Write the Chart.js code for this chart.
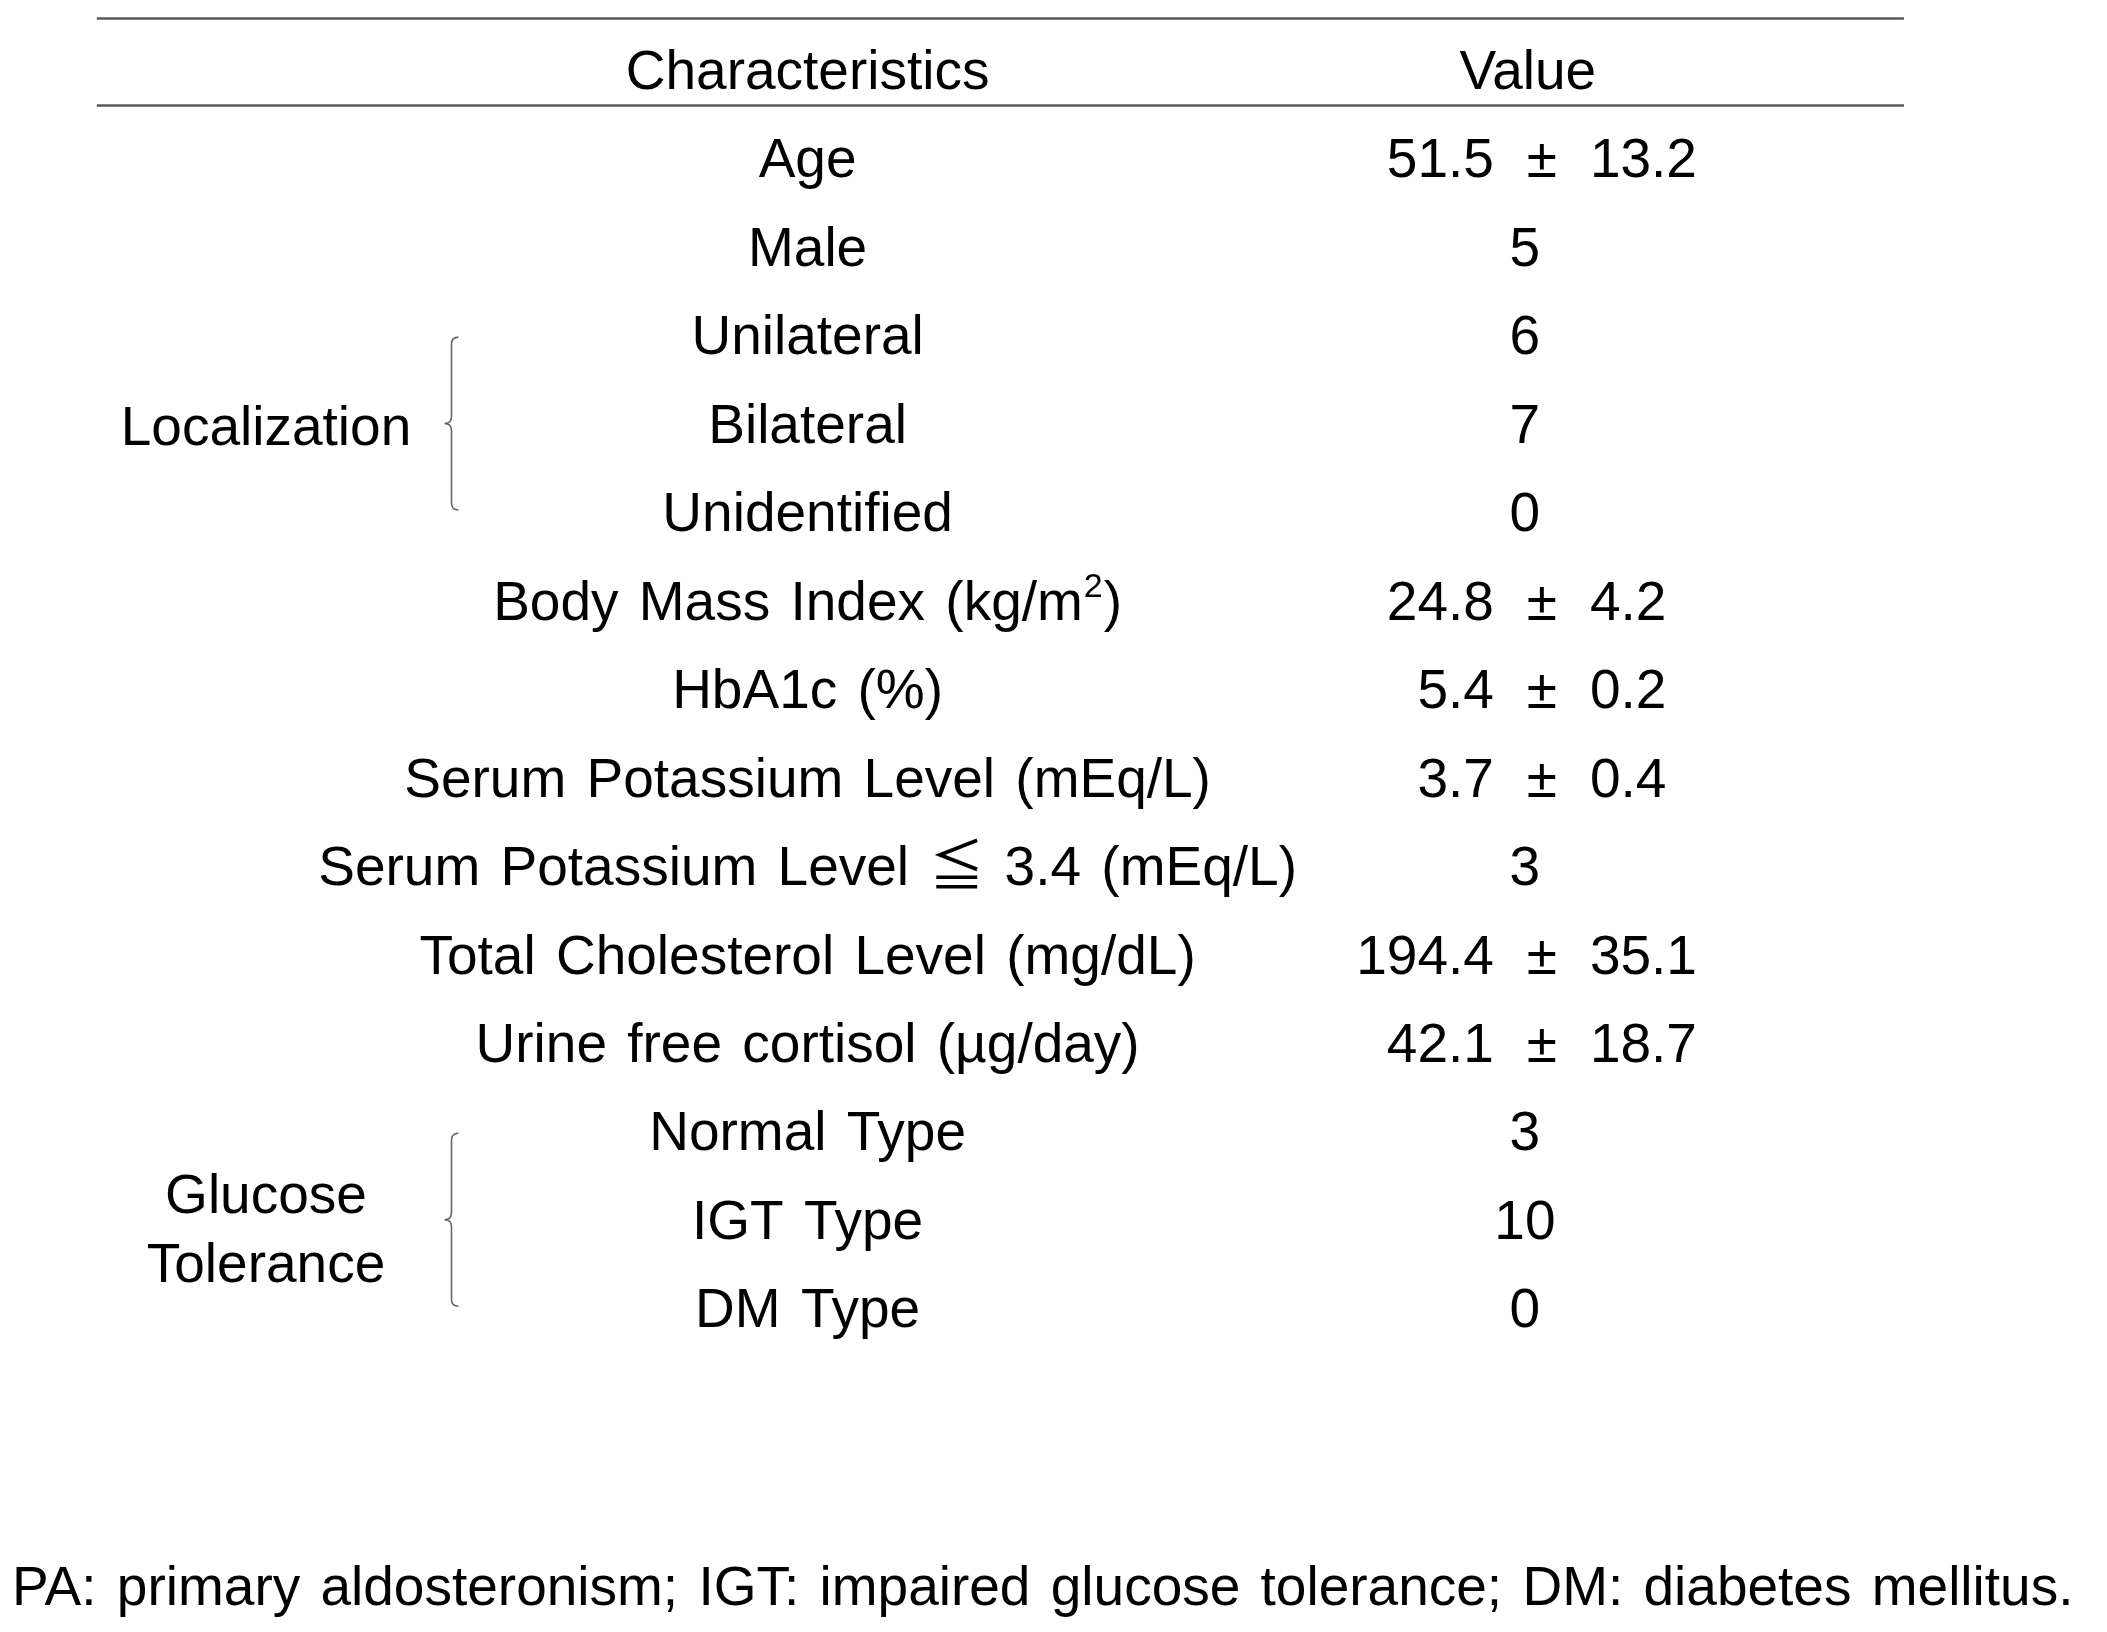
<!DOCTYPE html>
<html>
<head>
<meta charset="utf-8">
<script src="https://cdn.jsdelivr.net/npm/chart.js@4.4.1/dist/chart.umd.min.js"></script>
<style>
html, body { margin: 0; padding: 0; background: #fff; }
#tableChart { display: block; }
</style>
</head>
<body>
<canvas id="tableChart" width="2107" height="1632"></canvas>
<script>
// table content
var headers = ['Characteristics', 'Value'];
var characteristics = [
    'Age',
    'Male',
    'Unilateral',
    'Bilateral',
    'Unidentified',
    'Body Mass Index (kg/m\u00B2)',
    'HbA1c (%)',
    'Serum Potassium Level (mEq/L)',
    'Serum Potassium Level \u2266 3.4 (mEq/L)',
    'Total Cholesterol Level (mg/dL)',
    'Urine free cortisol (\u00B5g/day)',
    'Normal Type',
    'IGT Type',
    'DM Type'
];
var means = [51.5, 5, 6, 7, 0, 24.8, 5.4, 3.7, 3, 194.4, 42.1, 3, 10, 0];
var sds = [13.2, null, null, null, null, 4.2, 0.2, 0.4, null, 35.1, 18.7, null, null, null];
var groupLabels = [['Localization'], ['Glucose', 'Tolerance']];
var groupFirstRow = [2, 11];
var groupLastRow = [4, 13];
var footnote = 'PA: primary aldosteronism; IGT: impaired glucose tolerance; DM: diabetes mellitus.';

var fontFamily = '"Liberation Sans", Arial, "Noto Sans CJK JP", sans-serif';
var fontSize = 55;

// column positions on the x scale (label column = 0, value column = 1)
var COL_GROUP = -0.7519;
var COL_BRACE = -0.4944;
var COL_LABEL = 0;
var COL_VALUE = 1;
var RULE_FROM = -0.9868;
var RULE_TO = 1.5221;
// rule positions on the row scale
var RULE_TOP = -1.634;
var RULE_HEAD = -0.648;
var HEADER_ROW = -1;

function drawBrace(ctx, bx, top, bottom) {
    var mid = (top + bottom) / 2, r = 7;
    ctx.beginPath();
    ctx.moveTo(bx + r, top);
    ctx.quadraticCurveTo(bx, top, bx, top + r);
    ctx.lineTo(bx, mid - r);
    ctx.quadraticCurveTo(bx, mid, bx - r, mid);
    ctx.quadraticCurveTo(bx, mid, bx, mid + r);
    ctx.lineTo(bx, bottom - r);
    ctx.quadraticCurveTo(bx, bottom, bx + r, bottom);
    ctx.stroke();
}

// centred text, with a '²' drawn as a real superscript
function drawLabel(ctx, text, cx, cy) {
    var parts = text.split('\u00B2');
    if (parts.length === 1) {
        ctx.textAlign = 'center';
        ctx.fillText(text, cx, cy);
        return;
    }
    var big = fontSize + 'px ' + fontFamily;
    var small = Math.round(fontSize * 0.62) + 'px ' + fontFamily;
    ctx.font = big;
    var w0 = ctx.measureText(parts[0]).width;
    var w2 = ctx.measureText(parts[1]).width;
    ctx.font = small;
    var w1 = ctx.measureText('2').width + 2;
    var sx = cx - (w0 + w1 + w2) / 2;
    ctx.textAlign = 'left';
    ctx.font = big;
    ctx.fillText(parts[0], sx, cy);
    ctx.font = small;
    ctx.fillText('2', sx + w0 + 1, cy - fontSize * 0.3);
    ctx.font = big;
    ctx.fillText(parts[1], sx + w0 + w1, cy);
}

var tablePlugin = {
    id: 'tablePlugin',
    beforeDraw: function (chart) {
        chart.ctx.wordSpacing = '5px';
    },
    afterDraw: function (chart) {
        var ctx = chart.ctx;
        var x = chart.scales.x;
        var y = chart.scales.y;
        ctx.save();

        // horizontal rules
        ctx.strokeStyle = '#5a5a5a';
        ctx.lineWidth = 2.5;
        [RULE_TOP, RULE_HEAD].forEach(function (r) {
            var py = Math.round(y.getPixelForValue(r)) + 0.5;
            ctx.beginPath();
            ctx.moveTo(x.getPixelForValue(RULE_FROM), py);
            ctx.lineTo(x.getPixelForValue(RULE_TO), py);
            ctx.stroke();
        });

        ctx.fillStyle = '#000';
        ctx.font = fontSize + 'px ' + fontFamily;
        ctx.textBaseline = 'middle';

        // header
        ctx.textAlign = 'center';
        ctx.fillText(headers[0], x.getPixelForValue(COL_LABEL), y.getPixelForValue(HEADER_ROW));
        ctx.fillText(headers[1], x.getPixelForValue(COL_VALUE), y.getPixelForValue(HEADER_ROW));

        // rows
        var vx = x.getPixelForValue(COL_VALUE);
        characteristics.forEach(function (name, i) {
            var py = y.getPixelForValue(i);
            drawLabel(ctx, name, x.getPixelForValue(COL_LABEL), py);
            ctx.textAlign = 'center';
            if (sds[i] === null) {
                ctx.fillText(String(means[i]), vx - 3, py);
            } else {
                var pm = vx + 14;
                ctx.fillText('\u00B1', pm, py);
                ctx.textAlign = 'right';
                ctx.fillText(means[i].toFixed(1), pm - 48, py);
                ctx.textAlign = 'left';
                ctx.fillText(sds[i].toFixed(1), pm + 48, py);
            }
        });

        // grouped rows: label + brace
        groupLabels.forEach(function (lines, g) {
            var top = y.getPixelForValue(groupFirstRow[g]);
            var bottom = y.getPixelForValue(groupLastRow[g]);
            var mid = (top + bottom) / 2;
            var lh = 69;
            ctx.textAlign = 'center';
            lines.forEach(function (line, k) {
                ctx.fillText(line, x.getPixelForValue(COL_GROUP),
                    mid + 2 + (lines.length - 1) * 6.5 + (k - (lines.length - 1) / 2) * lh);
            });
            ctx.strokeStyle = '#666';
            ctx.lineWidth = 1.6;
            drawBrace(ctx, x.getPixelForValue(COL_BRACE), top - 2, bottom - 6);
        });

        ctx.restore();
    }
};

var ctx = document.getElementById('tableChart');
var tableChart = new Chart(ctx, {
    type: 'scatter',
    data: { datasets: [] },
    options: {
        responsive: false,
        devicePixelRatio: 1,
        animation: false,
        events: [],
        layout: { padding: { left: 12, top: 117.9, right: 0, bottom: 0 } },
        scales: {
            x: { type: 'linear', display: false, bounds: 'data', min: -1.10454, max: 1.80397 },
            y: { type: 'category', display: false, labels: characteristics, offset: true }
        },
        plugins: {
            legend: { display: false },
            tooltip: { enabled: false },
            subtitle: {
                display: true,
                position: 'bottom',
                align: 'start',
                text: footnote,
                color: '#000',
                font: { family: fontFamily, size: fontSize, weight: 'normal', lineHeight: 1.2 },
                padding: { top: 200, bottom: 9.5 }
            }
        }
    },
    plugins: [tablePlugin]
});
</script>
</body>
</html>
